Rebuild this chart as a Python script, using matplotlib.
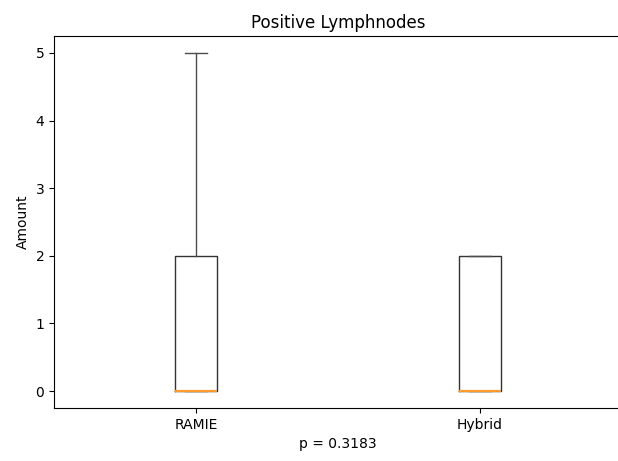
import matplotlib

matplotlib.use("Agg")
import matplotlib.pyplot as plt

# box statistics
groups = ["RAMIE", "Hybrid"]
whis_lo = [0, 0]
q1 = [0, 0]
median = [0, 0]
q3 = [2, 2]
whis_hi = [5, 2]
p_value = 0.3183

stats = [dict(label=g, whislo=lo, q1=a, med=m, q3=b, whishi=hi, fliers=[])
         for g, lo, a, m, b, hi in zip(groups, whis_lo, q1, median, q3, whis_hi)]

fig = plt.figure(figsize=(6.18, 4.61), dpi=100)
ax = fig.add_axes([0.0874, 0.115, 0.919, 0.807])
ax.bxp(stats, medianprops=dict(color="#ff9a2e", linewidth=1.6, zorder=4),
       boxprops=dict(color="0.2"), whiskerprops=dict(color="0.3"),
       capprops=dict(color="0.3"))
ax.set_xlim(0.5, 2.5)
# in the reference the right spine is cut off by the picture edge
ax.spines["right"].set_visible(False)
ax.set_title("Positive Lymphnodes")
ax.set_ylabel("Amount")
ax.set_xlabel(f"p = {p_value}")
fig.savefig("out.png", dpi=100)
